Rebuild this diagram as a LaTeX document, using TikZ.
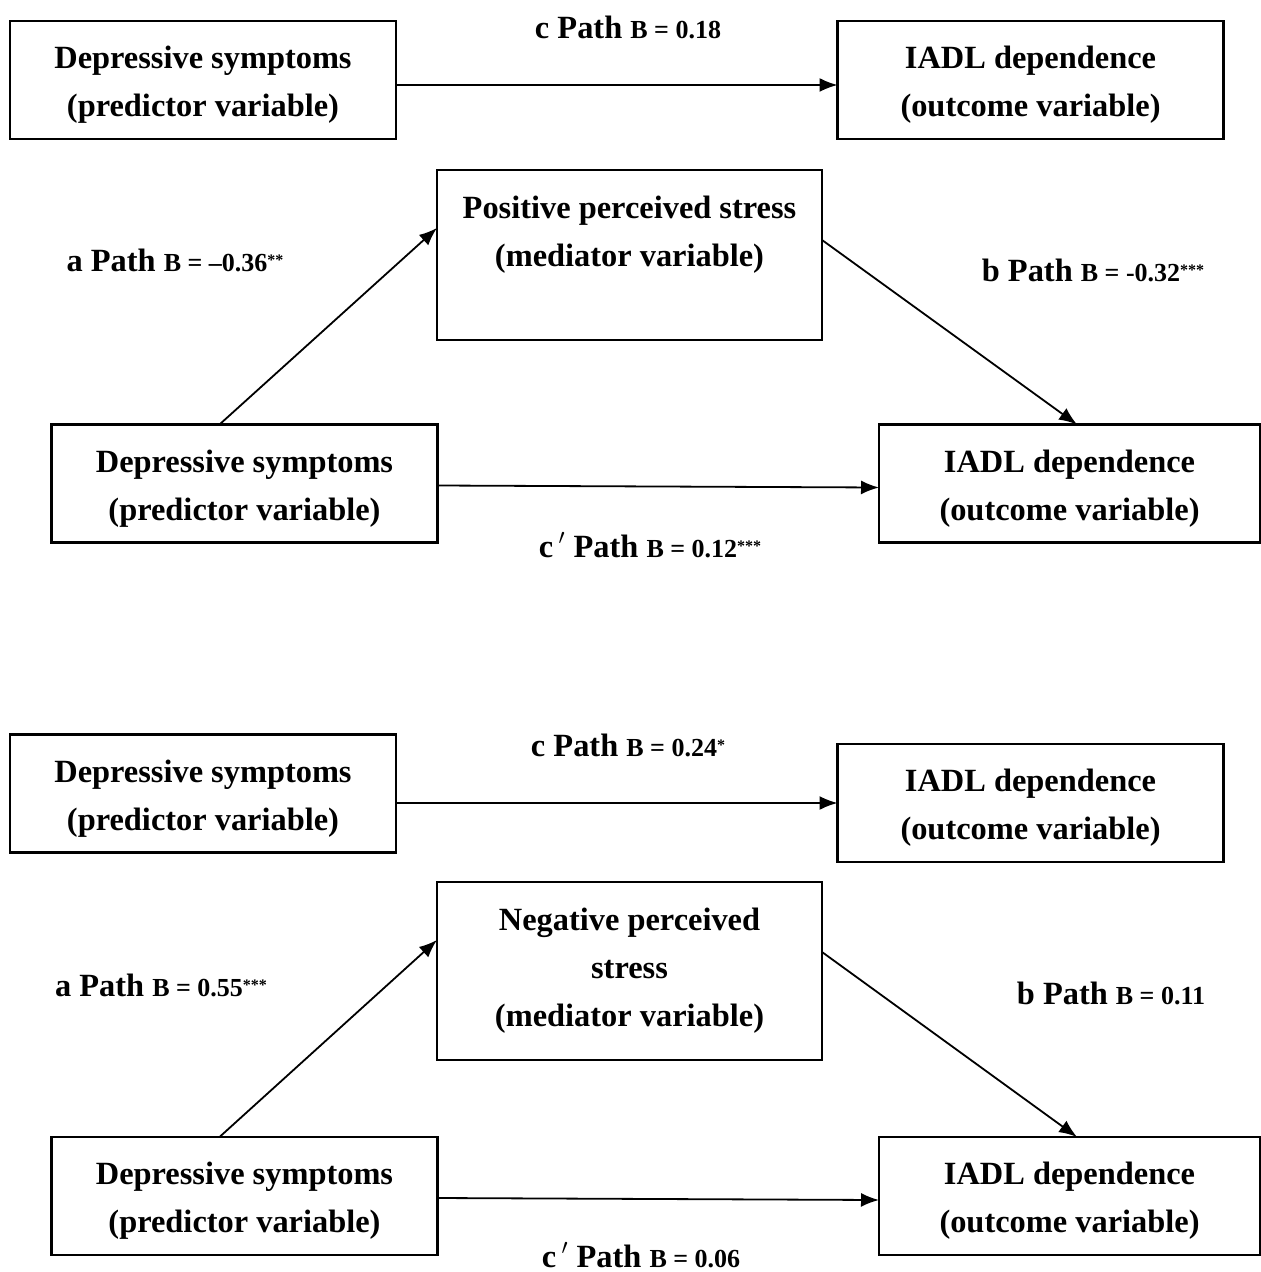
\documentclass[tikz,border=0pt]{standalone}
\usepackage{fontspec}
\setmainfont{Liberation Serif}
\usetikzlibrary{calc,arrows.meta}
\newcommand{\pathB}[1]{{\fontsize{13}{13}\selectfont B = #1}}
\newcommand{\sig}[1]{\raisebox{3pt}{\fontsize{8}{8}\selectfont #1}}
\newcommand{\twoline}[2]{\rule{0pt}{16pt}#1\\#2}

\begin{document}
\begin{tikzpicture}[x=0.5pt,y=-0.5pt,font=\bfseries\fontsize{16.2}{24}\selectfont,
  box/.style={draw,line width=1.2pt,inner sep=0pt,outer sep=0pt,align=center,
    minimum width=193pt,minimum height=59pt},
  outbox/.style={box,minimum width=190.5pt},
  medbox/.style={box,minimum width=192.5pt},
  arr/.style={-{Latex[length=9pt,width=7pt]},line width=0.9pt}]
  \useasboundingbox (0,0) rectangle (1261,1272);
  % positive stress: total effect
  \node[box] (d1) at (203,80) {\twoline{Depressive symptoms}{(predictor variable)}};
  \node[box] (i1) at (1030.5,80) {\twoline{IADL dependence}{(outcome variable)}};
  \draw[arr] ($(d1.east)+(0,5)$) -- ($(i1.west)+(0,5)$);
  \node (c1) at (628,27) {c Path \pathB{0.18}};
  % positive stress: mediation
  \node[medbox,minimum height=85pt] (m1) at (629.5,255)
    {Positive perceived stress\\(mediator variable)\\\mbox{}};
  \node[box] (d2) at (244.5,483.5) {\twoline{Depressive symptoms}{(predictor variable)}};
  \node[outbox] (i2) at (1069.5,483.5) {\twoline{IADL dependence}{(outcome variable)}};
  \draw[arr] ($(d2.north west)+(168,0)$) -- ($(m1.north west)+(0,58)$);
  \draw[arr] ($(m1.north east)+(0,70)$) -- ($(i2.north west)+(198,0)$);
  \draw[arr] ($(d2.east)+(0,2)$) -- ($(i2.west)+(0,4)$);
  \node (a1) at (175,260) {a Path \pathB{--0.36}\sig{**}};
  \node (b1) at (1093,270) {b Path \pathB{-0.32}\sig{***}};
  \node (cp1) at (650,545) {c\,$'$ Path \pathB{0.12}\sig{***}};
  % negative stress: total effect
  \node[box] (d3) at (203,793.5) {\twoline{Depressive symptoms}{(predictor variable)}};
  \node[box] (i3) at (1030.5,803) {\twoline{IADL dependence}{(outcome variable)}};
  \draw[arr] (d3.east |- i3.west) -- (i3.west);
  \node (c2) at (628,745) {c Path \pathB{0.24}\sig{*}};
  % negative stress: mediation
  \node[medbox,minimum height=89pt] (m2) at (629.5,971)
    {Negative perceived\\stress\\(mediator variable)};
  \node[box] (d4) at (244.5,1196) {\twoline{Depressive symptoms}{(predictor variable)}};
  \node[outbox] (i4) at (1069.5,1196) {\twoline{IADL dependence}{(outcome variable)}};
  \draw[arr] ($(d4.north west)+(168,0)$) -- ($(m2.north west)+(0,58)$);
  \draw[arr] ($(m2.north east)+(0,70)$) -- ($(i4.north west)+(198,0)$);
  \draw[arr] ($(d4.east)+(0,2)$) -- ($(i4.west)+(0,4)$);
  \node (a2) at (161,985) {a Path \pathB{0.55}\sig{***}};
  \node (b2) at (1111,993) {b Path \pathB{0.11}};
  \node (cp2) at (641,1255) {c\,$'$ Path \pathB{0.06}};
\end{tikzpicture}
\end{document}
